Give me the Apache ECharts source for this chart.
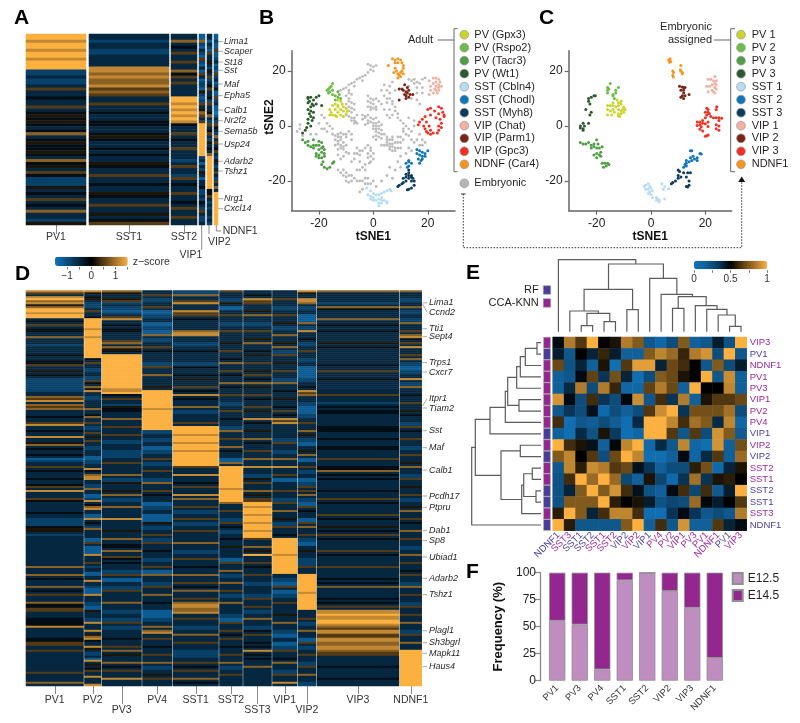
<!DOCTYPE html>
<html>
<head>
<meta charset="utf-8">
<title>Interneuron clusters</title>
<script src="https://cdn.jsdelivr.net/npm/echarts@6/dist/echarts.min.js"></script>
<style>
  html, body { margin: 0; padding: 0; background: #fff; }
  #main { width: 800px; height: 723px; }
</style>
</head>
<body>
<div id="main"></div>
<script>
// Panel A: rows read top to bottom, shade 0 (blue) .. 9 (orange)
const aPV1 = [9,9,8,9,9,8,9,9,8,9, 9,9,2,2,3,2,2,3,6,3, 3,4,3,3,6,3,4,5,4,5, 4,3,4,7,3,4,5,4,4,5, 4,3,7,4,5,3,6,4,2,2, 2,5,3,4,3,6,3,4,3,7, 3,3,2,5]
const aSST1 = [3,3,2,3,3,2,2,3,3,3, 3,8,8,7,8,7,7,8,6,7, 6,3,3,6,3,3,4,3,3,4, 4,3,3,4,5,4,3,3,4,3, 4,3,3,5,4,3,3,6,3,3, 4,3,3,5,4,3,3,6,3,3, 5,3,4,6]
const aSST2 = [3,3,7,3,4,3,6,3,3,6, 3,3,7,4,6,3,6,3,3,3, 3,9,9,8,9,8,9,8,9,8, 4,3,3,6,3,4,3,3,6,3, 3,3,2,3,6,3,3,2,6,3, 4,3,3,6,3,3,4,3,6,3, 3,6,3,3]
const aVIP1 = [1,1,7,2,1,3,2,1,6,2, 1,3,1,6,3,1,2,2,1,5, 2,1,2,6,3,5,7,6,3,6, 9,9,9,9,9,9,9,9,9,9, 9,2,3,1,3,2,5,3,1,3, 3,4,2,2,3,2,4,3,2,6, 3,2,2,3]
const aVIP2 = [3,3,1,3,2,1,6,3,3,5, 3,2,5,3,6,2,3,4,6,3, 3,4,2,6,3,3,4,7,3,2, 6,3,4,6,3,2,5,3,4,3, 7,9,9,9,9,9,9,9,9,9, 9,9,4,4,6,3,2,3,2,3, 3,2,3,2]
const aNDNF1 = [1,1,2,1,1,6,1,1,2,3, 1,2,1,6,2,3,1,2,5,1, 1,6,2,3,1,1,0,1,3,2, 6,4,3,2,7,3,6,3,4,6, 3,2,5,3,2,3,6,3,2,6, 3,7,3,9,9,9,9,9,9,9, 9,9,9,9]

// Panel D: 198 rows per column
const dPV1 = [8,6,3,8,9,7,8,5,7,9,9,8,9,9,3,4,3,6,3,4,
  4,3,3,7,3,3,3,2,3,3,3,3,4,3,3,4,4,6,3,3,
  5,3,4,3,2,2,2,2,2,2,2,3,3,7,6,8,3,7,6,7,
  3,3,3,4,3,3,6,8,3,3,4,3,3,8,3,3,5,7,3,4,
  3,3,4,3,1,2,3,3,6,3,4,3,3,3,4,3,3,4,6,3,
  8,3,3,3,6,4,3,3,3,3,3,4,3,3,2,2,2,2,4,5,
  5,3,2,3,3,3,3,3,3,3,3,3,3,3,3,3,3,3,7,3,
  3,3,7,3,4,3,3,3,7,3,4,3,6,3,3,3,7,4,4,6,
  6,3,3,3,4,4,4,4,8,3,3,3,3,3,4,4,6,6,3,3,
  6,3,3,3,3,3,3,3,3,3,3,6,3,3,3,3,7,3]
const dPV2 = [8,5,3,4,5,3,2,2,2,3,6,3,3,4,9,9,9,9,9,8,
  9,9,9,8,9,9,9,9,9,9,9,9,9,9,4,3,6,3,3,2,
  2,3,3,2,2,6,4,3,7,5,8,3,3,2,2,3,3,3,3,7,
  3,3,4,7,3,3,6,3,2,2,3,6,3,5,3,6,3,3,2,2,
  3,3,3,1,1,2,2,3,3,8,4,3,7,8,8,3,3,2,2,7,
  3,3,1,1,2,8,3,4,7,8,3,3,1,1,8,3,4,3,2,7,
  3,3,3,3,1,1,6,3,1,1,1,1,8,3,3,3,6,3,2,3,
  3,1,1,3,3,8,3,3,2,1,1,1,8,3,3,3,2,2,1,1,
  5,3,3,3,2,2,8,3,3,3,8,3,5,7,8,4,3,3,8,5,
  3,2,2,3,1,8,3,5,3,4,6,3,3,8,3,3,3,8]
const dPV3 = [7,5,3,3,5,6,2,3,2,2,1,2,3,6,8,3,3,4,3,4,
  4,3,3,3,3,6,7,3,7,5,4,3,9,9,9,9,9,9,9,9,
  9,9,9,9,9,9,9,9,9,8,8,9,4,3,6,3,3,2,5,4,
  4,3,3,3,7,3,3,3,6,3,3,3,6,3,3,2,2,3,3,3,
  2,2,2,2,3,3,6,3,3,3,3,3,7,3,2,2,5,3,3,3,
  5,3,7,3,2,2,3,3,7,3,3,3,3,3,8,3,3,3,3,3,
  5,3,3,3,7,3,3,4,4,3,7,3,3,6,4,3,4,3,3,3,
  2,2,6,3,1,1,3,3,2,2,6,3,3,3,3,3,7,3,3,3,
  2,2,3,3,2,2,6,3,2,2,3,3,3,3,4,3,3,3,6,3,
  7,3,5,3,3,3,7,3,4,3,6,3,3,3,8,3,3,3]
const dPV4 = [3,3,6,3,2,2,3,3,6,3,1,1,2,2,3,3,1,1,2,2,
  1,1,7,3,2,2,3,3,6,3,4,3,3,3,3,3,2,2,6,3,
  3,3,7,3,3,3,3,3,5,3,9,9,9,9,9,9,9,9,9,8,
  9,9,9,9,9,9,9,9,9,9,2,2,3,3,2,2,3,3,1,1,
  2,2,3,3,6,3,2,2,3,3,6,3,3,3,2,2,7,3,3,3,
  6,3,4,3,3,3,1,1,2,2,3,3,1,1,1,1,5,3,2,2,
  3,3,6,3,2,2,6,3,3,3,4,3,3,3,2,2,3,3,6,3,
  1,1,7,3,3,3,2,2,6,3,3,3,7,3,3,3,4,3,3,3,
  1,1,1,1,2,2,3,3,7,3,7,8,3,3,6,3,3,3,4,3,
  3,3,6,3,3,3,7,3,2,2,3,3,5,3,6,3,3,3]
const dSST1 = [2,2,7,3,3,6,8,3,3,3,8,6,6,3,4,3,3,3,3,3,
  7,8,8,3,3,3,2,2,3,3,4,3,3,3,3,3,2,2,4,3,
  3,3,4,3,5,3,3,3,6,3,4,3,8,3,4,3,3,3,7,3,
  2,2,3,3,3,3,6,3,9,9,9,9,8,9,9,9,8,9,9,9,
  8,9,9,9,9,9,9,9,6,3,3,3,8,3,3,3,4,3,6,3,
  3,3,8,3,7,3,3,3,6,3,2,2,3,3,6,3,2,2,3,3,
  6,3,3,3,3,3,7,3,3,3,2,2,3,3,6,3,3,3,4,3,
  3,3,7,3,3,3,6,3,4,3,7,3,3,3,6,3,7,8,8,7,
  7,8,3,3,6,3,3,3,2,2,3,3,7,3,3,3,6,3,3,3,
  2,2,2,2,3,3,6,3,4,3,6,3,3,3,7,3,4,3]
const dSST2 = [6,3,3,3,2,2,5,3,1,1,3,3,6,3,3,3,2,2,3,3,
  6,3,3,3,3,3,5,3,3,3,6,3,3,3,4,3,7,3,3,3,
  6,3,4,3,3,3,7,3,4,3,3,3,6,3,3,3,2,2,3,3,
  6,3,3,3,4,3,3,3,2,2,7,3,3,3,6,3,3,3,7,3,
  4,3,3,3,1,1,7,3,9,9,9,9,9,9,9,9,9,9,9,8,
  9,9,9,9,9,9,7,3,3,3,6,3,3,3,2,2,6,3,4,3,
  2,2,3,3,4,3,3,3,5,3,3,3,3,3,1,1,6,3,3,3,
  7,3,2,2,3,3,7,3,3,3,6,3,2,2,3,3,7,3,3,3,
  3,3,2,2,1,1,6,3,3,3,6,3,4,3,6,3,3,3,4,3,
  3,3,6,3,3,3,7,3,2,2,3,3,6,3,3,3,3,3]
const dSST3 = [3,3,4,3,8,6,6,3,3,3,5,3,7,3,3,3,2,2,3,3,
  6,3,3,3,5,3,7,3,3,3,4,3,5,3,3,3,6,3,3,3,
  5,3,6,3,4,3,7,3,5,3,3,3,6,3,4,3,3,3,6,3,
  5,3,3,3,8,3,4,3,3,3,5,3,3,3,7,3,4,3,3,3,
  6,3,3,3,7,3,3,3,8,3,3,3,2,2,5,3,6,3,3,3,
  7,3,5,3,6,6,9,9,8,9,9,9,8,9,9,9,8,9,9,9,
  8,9,9,9,6,3,3,3,7,3,5,3,9,3,3,3,6,3,4,3,
  3,3,6,3,3,3,2,2,3,3,3,3,2,2,6,3,3,3,6,3,
  2,2,3,3,7,3,3,3,2,2,4,3,6,3,3,3,4,3,4,3,
  8,3,4,3,4,3,3,3,7,3,3,3,3,3,3,3,3,3]
const dVIP1 = [3,3,3,3,6,3,3,3,2,2,3,3,6,3,3,3,5,3,2,2,
  3,3,7,3,3,3,5,3,7,3,2,2,6,3,3,3,5,3,3,3,
  6,3,3,3,2,2,7,3,3,3,4,3,3,3,5,3,3,3,4,3,
  6,3,4,3,8,6,8,3,3,3,3,3,3,3,2,2,6,3,3,3,
  2,2,3,3,7,3,3,3,8,3,3,3,6,3,1,1,3,3,3,3,
  6,3,3,3,2,2,6,3,3,3,7,3,3,3,5,3,2,2,6,3,
  3,3,4,3,9,9,9,9,9,9,9,9,8,9,9,9,9,9,9,9,
  9,9,3,3,2,2,1,1,6,3,1,1,2,2,3,3,6,3,3,3,
  3,3,5,3,3,3,7,3,3,3,2,2,1,1,3,3,1,1,2,2,
  6,3,3,3,4,3,7,3,3,3,2,2,6,3,3,3,8,3]
const dVIP2 = [8,5,3,3,8,8,7,3,2,2,3,3,1,1,1,1,7,3,2,2,
  8,3,3,3,4,3,2,2,3,3,6,3,3,3,2,2,3,3,1,1,
  1,1,1,1,2,2,3,3,4,3,8,6,7,3,3,3,2,2,1,1,
  1,1,2,2,3,3,6,3,3,3,7,3,5,3,2,2,1,1,3,3,
  5,3,7,3,1,1,3,3,6,3,2,2,3,3,1,1,2,2,6,3,
  6,3,7,3,2,2,1,1,6,3,4,3,3,3,1,1,6,3,7,3,
  3,3,6,3,2,2,1,1,3,3,5,3,3,3,2,2,2,2,6,3,
  3,3,9,9,9,9,9,9,9,9,9,8,9,9,9,9,9,9,9,9,
  3,3,3,3,6,3,2,2,3,3,7,3,3,3,1,1,6,3,2,2,
  3,3,6,3,3,3,2,2,6,3,3,3,7,3,3,3,2,2]
const dVIP3 = [7,3,3,3,3,3,2,3,7,4,3,3,3,3,7,3,3,4,3,3,
  4,3,3,3,3,3,5,3,4,3,3,3,3,3,3,3,3,4,3,3,
  6,3,3,3,4,3,3,3,3,3,3,3,6,3,3,3,2,3,4,3,
  4,4,3,3,3,3,3,3,4,4,4,3,3,3,4,3,3,3,4,4,
  3,3,3,3,6,3,3,3,4,4,7,3,4,3,4,3,3,3,3,3,
  4,3,3,3,6,3,4,3,3,3,3,3,6,3,4,3,3,3,5,3,
  4,3,6,3,4,3,3,3,3,3,6,3,4,3,3,3,3,3,6,3,
  3,3,3,3,4,3,4,3,7,3,3,3,3,3,4,3,4,3,6,3,
  8,8,9,8,8,9,9,8,7,6,8,8,6,6,8,8,7,7,8,8,
  7,6,6,3,3,3,3,3,4,3,3,3,3,3,4,3,3,3]
const dNDNF1 = [7,3,3,3,2,2,3,3,7,3,2,2,3,3,2,2,7,3,3,3,
  6,3,7,8,4,3,6,3,8,3,3,3,6,3,7,3,2,2,1,1,
  2,2,3,3,8,3,2,2,7,3,3,3,4,3,3,3,6,3,3,3,
  5,3,4,3,3,3,2,2,6,3,4,3,3,3,6,3,3,3,2,2,
  3,3,6,3,3,3,5,3,7,3,3,3,2,2,6,3,3,3,5,3,
  3,3,6,3,2,2,3,3,5,3,7,3,3,3,6,3,4,3,3,3,
  7,3,3,3,6,3,3,3,2,2,3,3,7,3,3,3,6,3,3,3,
  4,3,6,3,3,3,2,2,7,3,3,3,6,3,3,3,2,2,6,3,
  3,3,6,3,3,3,7,3,3,3,2,2,6,3,3,3,7,3,3,3,
  9,9,9,9,9,9,9,9,9,9,9,9,9,9,9,9,9,9]

const aGenes = ['Lima1','Scaper','St18','Sst','Maf','Epha5','Calb1','Nr2f2','Sema5b','Usp24','Adarb2','Tshz1','Nrg1','Cxcl14']
const dGenes = ['Lima1','Ccnd2','Tti1','Sept4','Trps1','Cxcr7','Itpr1','Tiam2','Sst','Maf','Calb1','Pcdh17','Ptpru','Dab1','Sp8','Ubiad1','Adarb2','Tshz1','Plagl1','Sh3bgrl','Mapk11','Haus4']

// Panel B: embryonic cells in grey, adult clusters on top
const bEmbryonic = [[-2,22.5],[-1,22],[0,21.5],[1,22],[-1,20.5],[0,20],[-2,19.5],[-3,18.5],[-4,18],[-5,17.5],[-6,17],[-4,16.5],[-7,16],[-8,15.5],[-9,15],[-7,14.5],[-10,14],[-11,13.5],[-12,13],[-9,13],[-13,12.5],
  [-9,10],[-9,9],[-8,8.5],[-10,8],[-7,8],[-9,7],[-8,6.5],[-7,6],[-9,5.5],[-8,5],[-10,11],[-8,11.5],[-9,12],
  [-2,11],[-1,10],[-2,9],[0,9.5],[-1,8.5],[0,8],[1,7],[-1,7],[-2,7],[0,6.5],[1,6],[-1,6],[2,9],[1,10],[3,8],
  [4,11],[5,10],[6,10],[7,9],[5,8.5],[7,8],[8,7],[6,6],[8,5.5],[9,4.5],[7,4],[9,3],[6,3],[5,4],[4,6],
  [13,17],[14,16.5],[15,17],[16,16],[18,17],[19,17.5],[17,15.5],[15,15.5],[13,14.5],[16,14],[18,14],[7,16],[6,14.5],[5,13],[3,13],[4,15],[8,13],[6,12],[16,12],[18,12],[14,10],[16,9.5],[17,8],
  [-4,4],[-3,3.5],[-2,4],[-3,3],[-4,2.5],[-2,2],[-1,3],[0,2.5],[1,3],[-1,1.5],[0,1],[1,1],[2,1.5],[-2,1],[-3,0.5],[0,0],[1,0],[2,0],[3,0.5],[0,-1],[1,-1],[2,-1],[3,-1.5],[1,-2],[2,-2.5],[3,-3],[4,-3],[1,-3.5],[2,-4],[0,-4],[3,-4.5],[1,-5],
  [-10,4],[-9,3.5],[-8,3],[-7,3],[-7,2],[-8,2],[-6,1],[-6.5,1.5],[-7,1],[-6,4],
  [-19,4],[-18,3],[-17,1],[-16,0],[-15,-1],[-17,-2],[-15,-3],[-14,-3.5],[-13,-4],[-18,-1],[-20,1],[-19,-1],[-21,-3],[-23,-3],[-27,0.5],[-27,-1],[-28,-2],[-26,-3.5],
  [-14,-5],[-13,-5.5],[-12,-5],[-11,-6],[-13,-6.5],[-12,-7],[-11,-7.5],[-10,-7],[-12,-8],[-13,-8.5],[-11,-8.5],[-14,-7],[-10,-4],[-11,-3],[-12,-2.5],[-10,-3],[-9,-2],[-8,-5],[-8,-3],[-13,-3],[-12,-4],
  [-6,-8],[-5,-9],[-7,-10],[-6,-10],[-5,-10.5],[-4,-9],[-3,-8],[-2,-7],[-1,-8],[-1,-9],[-2,-10],[-1,-11],[0,-10],[-2,-11.5],[-1,-13],[0,-12],[-1.5,-13.5],[-3,-14],[-5,-13],[-7,-12],[-8,-13],[-9,-10],[-10,-9.5],[-11,-11],[-13,-10.5],[-12,-12],
  [5,-5],[6,-5],[7,-5],[8,-6],[5,-6],[6,-6.5],[7,-6.5],[9,-6],[10,-6],[5,-7],[6,-7.5],[7,-7.5],[8,-8],[6,-8.5],[7,-9],[8,-9],[9,-8],[10,-8],[4,-7],[7,-4],[5,-4],[9,-4],[10,-4],[11,-5],[3,-7],
  [10,2],[11,1],[12,0],[11,-1],[13,-1],[11,-2],[12,-3],[13,-3.5],[14,-5],[15,-6],[14,-2],[13,3],[15,2],[15,0],[17,-3],[16,-5],[18,-5],[19,-6],[17,-7],[18,-7],[13,-8],[14,-9],[12,-10],[10,-11],[9,-13],
  [-13,-16],[-12,-17],[-11,-16],[-10,-17],[-11,-18],[-10,-18.5],[-9,-18],[-8,-18],[-7,-19],[-8,-20],[-9,-20.5],[-10,-20],[-6,-20],[-5,-20],[-4,-20],[-3,-19],[-2,-19],[-6,-16],[-5,-16],[-4,-15],[-3,-16],
  [-5,-24],[-4,-23],[-3,-21],[-2,-21],[-1,-21],[0,-20],[1,-22],[3,-20],[5,-18],[7,-19],[6,-15],[8,-16],[10,-15]]
const bGpx3 = [[-13,9.5],[-12,9],[-11.5,8],[-14,8],[-13,7.5],[-15,7.5],[-13,7],[-11,7],[-10,6.5],[-16,6],[-14,6],[-12,6],[-9.5,5.5],[-11,5.5],[-15.5,5],[-13,5],[-10,4.5],[-12,4],[-15,4],[-14,3.8],[-11,3.5],[-16,4],[-13.5,3.5]]
const bRspo2 = [[-15,15.5],[-15.5,14.5],[-16,14],[-16.5,13.5],[-17,13],[-15,13],[-16,12.5],[-13,12.5],[-16.5,12],[-12.5,11.5],[-15,11.5],[-14,11],[-13,10.5],[-12,10],[-14,9.5]]
const bTacr3 = [[-26,-5],[-25,-6],[-24,-5.5],[-22,-5],[-20,-5.5],[-19,-6],[-24,-7],[-23,-7.5],[-22,-7],[-21,-7],[-20,-7],[-18.5,-7.5],[-22,-8],[-19,-8],[-20,-8.5],[-18,-8.5],[-19,-9.5],[-21,-10],[-20,-10.5],[-18,-10],[-21,-11],[-19,-11.5],[-18,-11],[-20,-11.5],[-18.5,-13],[-19,-14],[-18,-15],[-17,-15.5],[-16,-15],[-15,-13.5],[-14.5,-13]]
const bWt1 = [[-24,10.5],[-23,10.5],[-21,10.5],[-20,11],[-24,10],[-22,9.5],[-23.5,9],[-24,8.5],[-22.5,8],[-21,8],[-22,7.5],[-19,7.5],[-23,7],[-24,6],[-23,5.5],[-22,5],[-23.5,4.5],[-23,3.5],[-22,3],[-24,2.5],[-22.5,2],[-24,1],[-23,0],[-24.5,-0.5],[-25,-1.5],[-26,-2.5]]
const bCbln4 = [[-2.5,-22.5],[-1,-23.5],[0,-24.5],[-2,-25],[-1,-25.5],[0,-26],[1,-25],[2,-25],[3,-24.5],[4,-24],[5,-23.5],[6,-23],[6.5,-23.5],[3,-26],[2,-26.5],[0,-27],[-1,-26.5],[1,-27],[3,-27],[4,-27],[5,-27.5],[5,-28],[2,-28],[3,-28],[2,-29]]
const bChodl = [[16,-8.5],[17,-9],[18,-9.5],[19,-10],[16,-10],[17,-10.5],[18,-11],[19,-11],[20,-9],[16.5,-12],[17.5,-12.5],[17,-13.5],[18,-12],[13,-12.5],[13,-13],[12,-13.5],[14,-13.5],[13,-14.5],[12.5,-15]]
const bMyh8 = [[13,-16],[13,-17],[12,-17.5],[14,-18],[13,-18],[12,-18.5],[14,-18.5],[11,-19],[13,-19],[14.5,-19],[12,-20],[14,-20],[11,-20.5],[15,-20],[10.5,-21],[9.5,-21.5],[9,-22],[13,-23],[14,-22.5],[12.5,-23.2],[15,-21.5]]
const bChat = [[20.5,16.5],[22,17.5],[23,17.5],[24,17],[24.5,16],[23,16],[22,15.5],[24,15],[23,14.5],[25,14.5],[22.5,13.5],[24,13],[21,14.5],[21,13],[22,12],[23.5,12],[20.5,11.5],[24,14],[23,13]]
const bParm1 = [[11.5,15],[12.5,14],[9.5,13.5],[10.5,13.5],[11,13],[12,12.5],[13,13],[12.5,12],[11.5,11.5],[13.5,11.5],[14.5,11.5],[12,11],[13,10.5],[12,10],[9.5,9.5]]
const bGpc3 = [[20,6],[21,6.5],[24,7],[25,6.5],[22.5,5.5],[25.5,5],[24,4.5],[26,4],[26,3.5],[19,3.5],[21,4],[18,2.5],[17,1.5],[19.5,1.5],[23,3],[24.5,2.5],[25,1],[16.5,0.5],[18.5,0],[20.5,0],[24,0],[25,-0.5],[19,-1],[21,-1.5],[24,-1.5],[20,-2.5],[22,-2.5],[23.5,-2.5],[21,-3],[19.5,-2]]
const bCar4 = [[7,24.5],[8,24],[9,24.5],[10,24],[10.5,23],[11,22],[11,21],[10.5,20],[10,19.5],[9,19],[9.5,18.5],[8.5,20],[8,21],[8,23],[9,23],[7.5,19.5],[5.5,22],[9,17.5],[10,18],[11,19]]

// Panel C: embryonic cells after assignment
const cPV1 = [[-12.5,9.5],[-14,8.5],[-12,8.5],[-11,9],[-16,7.5],[-15,7.5],[-14,7.5],[-13,7],[-12,7.5],[-11,8],[-10,6.8],[-10.5,6],[-12,6],[-11,5.5],[-14,6],[-16,6],[-15,5.5],[-13.5,5],[-11,4.5],[-10,5],[-12,4.5],[-16,4],[-14.5,4],[-12,3.7],[-11.5,3.5],[-9.5,6]]
const cPV2 = [[-15,15.5],[-16,14],[-15.5,13.5],[-16,13],[-12,14],[-13,13],[-16,12],[-14,11],[-13,12],[-14,11.5],[-13.5,10]]
const cPV3 = [[-26,-6],[-25,-6.5],[-24,-6.5],[-23,-6],[-20,-5],[-21,-6.5],[-22,-7],[-21,-7.5],[-19.5,-6.5],[-18,-7.5],[-22,-8],[-20,-8],[-19,-8],[-18.5,-9.5],[-20,-10],[-21,-10.5],[-19,-10.5],[-18.5,-11],[-20,-11.5],[-18,-13.5],[-17,-13.5],[-16,-13.5],[-17.5,-15],[-16.5,-14.5],[-15.5,-14]]
const cPV3b = [[-21,11],[-20.5,11],[-22,10.5],[-23,10],[-23,9],[-22.5,8],[-24,6],[-22,5],[-22.5,4],[-23,1],[-25,1],[-24.5,0],[-26,0],[-26,-0.7],[-25,-1],[-25,-1.5]]
const cSST1 = [[-2.5,-22],[-2,-21.5],[-1,-21],[-0.5,-22],[0,-22.5],[-1,-23],[-2,-23],[-0.5,-24],[0.5,-23.5],[-1,-24.5],[0,-25],[4,-21],[5,-22],[4.5,-23],[6.5,-22.8],[0.5,-26],[2,-26],[2.5,-26.5],[2,-27],[3,-27],[3,-27.5],[5,-26.5]]
const cSST2 = [[14.5,-9],[15,-9],[18,-10],[18.5,-10.2],[15.5,-11],[14.5,-11.5],[17,-11.5],[16,-12],[17,-12.5],[13,-12.5],[14,-13],[13,-13.5],[15,-12.5],[12.5,-14],[13,-14.5],[12,-15]]
const cSST3 = [[10,-16],[10.5,-16.5],[12,-17],[13.5,-17],[14.5,-17],[10,-18],[11,-18.5],[13,-18.5],[10,-19],[9,-20],[8,-20.5],[7.5,-21],[14,-20],[14,-21.5],[13,-22],[13.5,-22.2]]
const cVIP1 = [[23.5,18],[21,17],[22,17],[23,16.5],[24,16.5],[23.5,15.5],[22.5,15],[24,15],[20.5,14.5],[21.5,14.5],[23.5,14],[24,13.5],[22.5,13],[23,12.5],[21,12.5],[23.5,12]]
const cVIP2 = [[10.5,14.5],[11.5,14.2],[12,14],[12.5,14],[11,13],[12,13],[12,12],[11.5,11],[12.5,11],[14,11.5],[11,10.5],[12,10]]
const cVIP3 = [[20.5,6.5],[21,6],[24.2,7],[24,6],[20,5],[21,5],[20.5,4],[21.5,4.5],[22,3.5],[20,3],[23,3],[24,3],[25,3],[26,2.8],[25,2],[19,2],[17,1.5],[18,1.5],[19,1],[21,1.5],[20,0.8],[18,0.5],[17,0.2],[18.5,-0.3],[21,-0.2],[24,0.5],[25,0],[24,-1],[25,-1.5],[18,-1.2],[19,-1.8],[20.5,-3.5],[21,-3.3],[20,-3.7]]
const cNDNF1 = [[6.5,24],[7,24.5],[7.3,23.5],[6.8,23.2],[8,20],[8.3,19.5],[8,18.5],[8.2,17.8],[11,22],[10.8,20.5],[11,20],[11.5,19.5],[11.5,19]]

const bLegend = ['PV (Gpx3)','PV (Rspo2)','PV (Tacr3)','PV (Wt1)','SST (Cbln4)','SST (Chodl)','SST (Myh8)','VIP (Chat)','VIP (Parm1)','VIP (Gpc3)','NDNF (Car4)']
const cLegend = ['PV 1','PV 2','PV 3','PV 3','SST 1','SST 2','SST 3','VIP 1','VIP 2','VIP 3','NDNF1']
const clusterColors = ['#c9d52b','#6cbd45','#4f9e43','#2b5a2e','#b6dcf6','#0f75bd','#0b3c5e','#f0b2a5','#7a2416','#ee3124','#f7941d']

// Panel E
const eRowLabels = ['VIP3','PV1','NDNF1','PV1','PV3','VIP1','PV2','PV4','VIP1','VIP2','VIP2','SST2','SST1','SST2','SST1','SST3','NDNF1']
const eRowIsRF = [0,1,0,0,0,0,0,0,1,0,1,0,0,1,1,0,1]
const eColLabels = ['NDNF1','SST3','SST1','SST2','SST1','SST2','VIP2','VIP2','VIP1','PV4','PV2','VIP1','PV3','PV1','NDNF1','PV1','VIP3']
const eColIsRF = [1,0,1,1,0,0,1,0,1,0,0,0,0,0,0,1,0]
const eMatrix = [
  [.47,.85,.65,1,.5,.55,.85,.75,.2,.1,.25,.75,.15,.2,.42,.22,1],
  [.42,.2,.5,.4,.6,.42,.15,.15,.75,.88,.8,.6,.85,.92,.25,1,.2],
  [.7,.22,.4,.15,.55,.05,.65,.95,.95,.4,.7,.62,.5,.2,.75,.25,.42],
  [.15,.2,.47,.68,.35,.72,.4,.05,.25,.75,.7,.55,.5,1,.2,.9,.15],
  [.15,.38,.85,.25,.85,.6,.1,.1,.68,.85,.7,.15,1,.5,.5,.88,.15],
  [.92,.47,.25,.62,.35,.25,.48,.9,.2,.62,.35,.85,.15,.55,.65,.65,.7],
  [.2,.35,.25,.45,.08,.25,.15,.25,.65,.9,1,.35,.72,.72,.72,.82,.25],
  [.62,.05,.2,.17,.25,.17,.05,.38,1,1,.88,.62,.82,.75,.38,.88,.1],
  [.15,.05,.38,.22,.55,.33,.05,.1,1,1,.65,.2,.65,.25,.92,.75,.18],
  [1,.62,.55,.45,.15,.48,.88,1,.08,.38,.2,.88,.1,.05,.92,.15,.72],
  [.75,.88,.5,.65,.25,.7,1,.88,.05,.05,.15,.47,.1,.38,.65,.15,.8],
  [.2,.88,.58,.9,.85,.65,.7,.45,.35,.15,.25,.25,.58,.72,.08,.4,.55],
  [.22,.62,1,.8,1,.8,.27,.15,.55,.28,.08,.35,.82,.35,.55,.58,.5],
  [.22,.4,.75,1,.75,.92,.62,.45,.22,.15,.47,.62,.28,.62,.18,.42,1],
  [.22,.75,.75,.75,1,.58,.5,.55,.42,.22,.28,.25,.8,.48,.42,.5,.65],
  [.58,1,.75,.4,.62,.88,.88,.62,.05,.05,.35,.47,.35,.2,.25,.2,.85],
  [1,.57,.2,.2,.2,.2,.75,1,.15,.62,.2,.92,.15,.15,.65,.4,.47]
]
// [leaf a, leaf b, height, base a, base b]
const eTopLinks = [[2,3,6,0,0],[4,5,10,0,0],[2.5,4.5,18.3,6,10],[1,3.5,20.7,0,18.3],[6,7,22,0,0],[2.25,6.5,42.3,20.7,22],[15,16,5.3,0,0],[14,15.5,16.7,0,5.3],[13,14.77,22.3,0,16.7],[12,13.9,26,0,22.3],[10,11,23.3,0,0],[10.5,12.95,35,23.3,26],[9,11.75,37.3,0,35],[8,10.38,53.3,0,37.3],[4.39,9.2,67.7,42.3,53.3],[0,6.78,72,0,67.7]]
const eLeftLinks = [[0,1,4,0,0],[0.5,2,15.7,4,0],[1.23,3,20.7,15.7,0],[2.1,4,24.3,20.7,0],[5,6,22,0,0],[3.04,5.5,33.3,24.3,22],[4.27,7,35.7,33.3,0],[5.68,8,51,35.7,0],[9,10,20.7,0,0],[11,12,8.7,0,0],[13,14,5,0,0],[11.5,13.5,17.3,8.7,5],[12.5,15,19.3,17.3,0],[9.5,13.76,40,20.7,19.3],[6.73,11.64,65.7,51,40],[9.18,16,69.3,65.7,0]]

// Panel F
const fCategories = ['PV1','PV3','PV4','SST1','SST2','VIP2','VIP3','NDNF1']
const fE125 = [55.5,52,10.5,93,100,83,67.5,21]
const fE145 = [44.5,48,89.5,7,0,17,32.5,79]

const FONT = '"Liberation Sans", Arial, sans-serif'
const TEXT = '#231f20'
const heatColors = ['#0f75bd', '#000000', '#fbb040']
const corrColors = ['#0f75bd', '#125e96', '#0a3a5e', '#000000', '#5a3e12', '#a8752a', '#fbb040']

const grids = [], xAxes = [], yAxes = [], series = [], graphics = []

function addGrid (rect, xAxis, yAxis) {
  grids.push({ left: rect[0], top: rect[1], width: rect[2], height: rect[3], containLabel: false })
  const gridIndex = grids.length - 1
  xAxes.push(Object.assign({ gridIndex }, xAxis))
  yAxes.push(Object.assign({ gridIndex }, yAxis))
  return gridIndex
}

function txt (text, x, y, o = {}) {
  graphics.push({
    type: 'text', x, y, rotation: o.rotation || 0, silent: true,
    style: {
      text, x: 0, y: 0, fill: o.fill || TEXT,
      font: `${o.style || ''} ${o.weight || ''} ${o.size || 11}px ${FONT}`,
      align: o.align || 'left', verticalAlign: 'middle'
    }
  })
}

function seg (x1, y1, x2, y2, stroke = '#999', lineWidth = 1, lineDash) {
  graphics.push({ type: 'line', silent: true, shape: { x1, y1, x2, y2 }, style: { stroke, lineWidth, lineDash } })
}

const heatIndex = []

// One grid per heatmap column, so widths can differ
function addColumn (values, rect, label, tickLen, labelMargin) {
  const rows = values.map((v, i) => i)
  const g = addGrid(rect, {
    type: 'category',
    data: [label],
    axisLine: { show: false },
    axisTick: { show: !!tickLen, alignWithLabel: true, length: tickLen || 0, lineStyle: { color: '#888' } },
    axisLabel: { show: !!tickLen, interval: 0, margin: labelMargin, fontSize: 10.5, color: '#333' }
  }, { type: 'category', data: rows, inverse: true, show: false })
  heatIndex.push(series.length)
  series.push({
    type: 'heatmap', xAxisIndex: g, yAxisIndex: g, silent: true,
    data: values.map((v, i) => [0, i, (v - 4.5) / 3])
  })
}

// Panel A
const aTop = 34, aHeight = 191
addColumn(aPV1, [26, aTop, 60, aHeight], 'PV1', 9, 7)
addColumn(aSST1, [89, aTop, 80, aHeight], 'SST1', 9, 7)
addColumn(aSST2, [171, aTop, 26, aHeight], 'SST2', 9, 7)
addColumn(aVIP1, [199, aTop, 6, aHeight], 'VIP1')
addColumn(aVIP2, [207, aTop, 5, aHeight], 'VIP2')
addColumn(aNDNF1, [214, aTop, 4, aHeight], 'NDNF1')
seg(201.7, 225, 201.7, 250, '#888')
txt('VIP1', 191, 255, { size: 10.5, align: 'center', fill: '#333' })
seg(209, 225, 209, 234, '#888')
txt('VIP2', 219.3, 241.7, { size: 10.5, align: 'center', fill: '#333' })
seg(216.3, 225, 216.3, 231, '#888')
seg(216.3, 231, 221, 231, '#888')
txt('NDNF1', 222.7, 231, { size: 10.5, fill: '#333' })

const aGeneY = [41.7,51.3,62,70.3,84,95.7,110,120.7,131.3,144,161.3,171,198.7,208.7]
aGenes.forEach((g, i) => {
  seg(218, aGeneY[i], 223, aGeneY[i], '#aaa')
  txt(g, 224, aGeneY[i], { size: 9, style: 'italic' })
})

// Panel D
const dTop = 290.5, dHeight = 395.5
addColumn(dPV1, [26, dTop, 57.5, dHeight], 'PV1', 8, 9)
addColumn(dPV2, [84.5, dTop, 16.5, dHeight], 'PV2', 8, 9)
addColumn(dPV3, [102, dTop, 39.5, dHeight], 'PV3', 18, 19)
addColumn(dPV4, [142.5, dTop, 29.5, dHeight], 'PV4', 8, 9)
addColumn(dSST1, [173, dTop, 45.5, dHeight], 'SST1', 8, 9)
addColumn(dSST2, [219.5, dTop, 23, dHeight], 'SST2', 8, 9)
addColumn(dSST3, [243.5, dTop, 28, dHeight], 'SST3', 18, 19)
addColumn(dVIP1, [272.5, dTop, 24.5, dHeight], 'VIP1', 8, 9)
addColumn(dVIP2, [298, dTop, 18, dHeight], 'VIP2', 18, 19)
addColumn(dVIP3, [317, dTop, 82, dHeight], 'VIP3', 8, 9)
addColumn(dNDNF1, [400, dTop, 21.7, dHeight], 'NDNF1', 8, 9)

const dGeneTickY = [303,304,328.7,336.7,362.7,372,406,408,430.7,447.7,470,496,507.3,530.3,540.7,557,578.3,594.7,630.7,642.7,653.3,666.7]
const dGeneTextY = [302.7,312.3,328.7,336.7,362.7,372,398.7,408,430.7,447.7,470,496,507.3,530.3,540.7,557,578.3,594.7,630.7,642.7,653.3,666.7]
dGenes.forEach((g, i) => {
  seg(422.5, dGeneTickY[i], 427, dGeneTextY[i], '#aaa')
  txt(g, 429, dGeneTextY[i], { size: 9, style: 'italic' })
})

// tSNE scatter axes
function addScatterGrid (rect, xMin, xMax) {
  const line = { onZero: false, lineStyle: { color: '#666', width: 1.5 } }
  return addGrid(rect, {
    type: 'value', min: xMin, max: xMax, splitLine: { show: false },
    axisLine: line, axisTick: { length: 4, customValues: [-20, 0, 20], lineStyle: { color: '#666', width: 1.2 } },
    axisLabel: { customValues: [-20, 0, 20], fontSize: 12, color: '#222', margin: 7 },
    name: 'tSNE1', nameLocation: 'middle', nameGap: 19,
    nameTextStyle: { fontWeight: 'bold', fontSize: 12, color: '#111', verticalAlign: 'top' }
  }, {
    type: 'value', min: -30.8, max: 27.4, splitLine: { show: false },
    axisLine: line, axisTick: { length: 4, customValues: [-20, 0, 20], lineStyle: { color: '#666', width: 1.2 } },
    axisLabel: { customValues: [-20, 0, 20], fontSize: 12, color: '#222', margin: 6 }
  })
}
function addPoints (g, data, color, size) {
  series.push({ type: 'scatter', xAxisIndex: g, yAxisIndex: g, data, symbolSize: size, silent: true, itemStyle: { color, opacity: 1 } })
}

const gB = addScatterGrid([291.7, 50.7, 163.3, 160], -30, 30)
addPoints(gB, bEmbryonic, '#bcbcbc', 2.8)
;[bGpx3, bRspo2, bTacr3, bWt1, bCbln4, bChodl, bMyh8, bChat, bParm1, bGpc3, bCar4].forEach((d, i) => addPoints(gB, d, clusterColors[i], 3))
txt('tSNE2', 270, 117, { size: 12, weight: 'bold', align: 'center', rotation: Math.PI / 2, fill: '#111' })

const gC = addScatterGrid([568.7, 50.7, 163, 160], -30.3, 29.7)
;[cPV1, cPV2, cPV3, cPV3b, cSST1, cSST2, cSST3, cVIP1, cVIP2, cVIP3, cNDNF1].forEach((d, i) => addPoints(gC, d, clusterColors[i], 3))

// Bracketed legends
const legendY = [34.7,47.7,60.7,73.7,86.7,99.7,112.7,125.7,138.3,151.3,164.3]
function drawLegend (names, dotX, textX, bracketX, bracketEnd) {
  names.forEach((n, i) => {
    graphics.push({
      type: 'circle', silent: true, shape: { cx: dotX, cy: legendY[i], r: 4.4 },
      style: { fill: clusterColors[i], stroke: '#999', lineWidth: 0.7 }
    })
    txt(n, textX, legendY[i], { size: 11 })
  })
  graphics.push({
    type: 'polyline', silent: true,
    shape: { points: [[bracketEnd, 28.7], [bracketX, 28.7], [bracketX, 171.7], [bracketEnd, 171.7]] },
    style: { stroke: '#666', lineWidth: 1, fill: null }
  })
}
drawLegend(bLegend, 464.3, 474.3, 454, 457.5)
drawLegend(cLegend, 741, 751.7, 730.7, 735)
graphics.push({
  type: 'circle', silent: true, shape: { cx: 464.3, cy: 183.3, r: 4.4 },
  style: { fill: '#b5b5b5', stroke: '#999', lineWidth: 0.7 }
})
txt('Embryonic', 474.3, 183.3, { size: 11 })
txt('Adult', 408, 39.5, { size: 11 })
seg(437.7, 40, 454, 40, '#666')
txt('Embryonic', 712, 26.7, { size: 11, align: 'right' })
txt('assigned', 712, 40, { size: 11, align: 'right' })
seg(714, 40, 730.7, 40, '#666')

// Dotted link from B to C
graphics.push({
  type: 'polyline', silent: true,
  shape: { points: [[463.3, 194], [463.3, 247.7], [741.7, 247.7], [741.7, 182]] },
  style: { stroke: '#333', lineWidth: 1, lineDash: [1.5, 1.5], fill: null }
})
seg(461, 194, 465.6, 194, '#333')
graphics.push({
  type: 'polygon', silent: true,
  shape: { points: [[741.7, 176.5], [738.2, 182], [745.2, 182]] },
  style: { fill: '#111' }
})

// Panel E
const eLeft = 552.7, eTop = 337, eSize = 194
const gE = addGrid([eLeft, eTop, eSize, 193.7], {
  type: 'category', data: eColLabels, axisLine: { show: false }, axisTick: { show: false },
  axisLabel: {
    interval: 0, rotate: 45, margin: 3, fontSize: 9.5,
    color: (v, i) => (eColIsRF[i] ? '#4b3fa0' : '#a0289a')
  }
}, {
  type: 'category', data: eRowLabels, inverse: true, position: 'right',
  axisLine: { show: false }, axisTick: { show: false },
  axisLabel: {
    interval: 0, margin: 3, fontSize: 9.5,
    color: (v, i) => (eRowIsRF[i] ? '#4b3fa0' : '#a0289a')
  }
})
const eHeatIndex = series.length
const eCells = []
eMatrix.forEach((row, r) => row.forEach((v, c) => eCells.push([c, r, v])))
series.push({ type: 'heatmap', xAxisIndex: gE, yAxisIndex: gE, data: eCells, silent: true })

// Method strip left of the heatmap
const gStrip = addGrid([543.3, eTop, 7.4, 193.7],
  { type: 'value', min: 0, max: 1, show: false },
  { type: 'category', data: eRowLabels, inverse: true, show: false })
series.push({
  type: 'bar', xAxisIndex: gStrip, yAxisIndex: gStrip, barWidth: '100%', silent: true,
  data: eRowIsRF.map(isRF => ({
    value: 1,
    itemStyle: { color: isRF ? '#4a3d99' : '#93278f', borderColor: '#aaa', borderWidth: 0.5 }
  }))
})

function addDendro (g, links, project) {
  series.push({
    type: 'custom', xAxisIndex: g, yAxisIndex: g, silent: true, data: links, clip: false,
    renderItem: (params, api) => {
      const a = api.value(0) + 0.5, b = api.value(1) + 0.5, h = api.value(2)
      const points = [[a, api.value(3)], [a, h], [b, h], [b, api.value(4)]].map(p => api.coord(project(p)))
      return { type: 'polyline', shape: { points }, style: { stroke: '#5c5c5c', lineWidth: 1.2, fill: null } }
    }
  })
}
const gTop = addGrid([eLeft, 256.7, eSize, 75],
  { type: 'value', min: 0, max: 17, show: false },
  { type: 'value', min: 0, max: 75, show: false })
addDendro(gTop, eTopLinks, p => p)
const gLeft = addGrid([471.7, eTop, 69.3, 193.7],
  { type: 'value', min: 0, max: 69.3, inverse: true, show: false },
  { type: 'value', min: 0, max: 17, inverse: true, show: false })
addDendro(gLeft, eLeftLinks, p => [p[1], p[0]])

txt('RF', 538.7, 290, { size: 11, align: 'right' })
txt('CCA-KNN', 538.7, 303, { size: 11, align: 'right' })
graphics.push({ type: 'rect', silent: true, shape: { x: 543.3, y: 285.7, width: 7.4, height: 8.6 }, style: { fill: '#4a3d99', stroke: '#aaa', lineWidth: 0.5 } })
graphics.push({ type: 'rect', silent: true, shape: { x: 543.3, y: 298.7, width: 7.4, height: 8.6 }, style: { fill: '#93278f', stroke: '#aaa', lineWidth: 0.5 } })

// Colour bars: visualMap draws the ramp, an empty grid the ticks
addGrid([55, 266, 72.7, 1], {
  type: 'value', min: -1.5, max: 1.5, splitLine: { show: false }, axisLine: { show: false },
  axisTick: { length: 2.5, customValues: [-1, -0.5, 0, 0.5, 1, 1.5], lineStyle: { color: '#777' } },
  axisLabel: { customValues: [-1, 0, 1], margin: 4, fontSize: 10, color: '#333', formatter: v => (v < 0 ? '\u2212' + Math.abs(v) : v) }
}, { type: 'value', show: false })
txt('z\u2212score', 132.7, 262, { size: 10.5, fill: '#333' })
addGrid([694, 269.3, 73, 1], {
  type: 'value', min: 0, max: 1, splitLine: { show: false }, axisLine: { show: false },
  axisTick: { length: 2.5, customValues: [0, 0.25, 0.5, 0.75, 1], lineStyle: { color: '#777' } },
  axisLabel: { customValues: [0, 0.5, 1], margin: 4, fontSize: 10, color: '#333' }
}, { type: 'value', show: false })

// Panel F
const gF = addGrid([546, 572.7, 180, 108], {
  type: 'category', data: fCategories, axisLine: { show: false }, axisTick: { show: false },
  axisLabel: { interval: 0, rotate: 45, margin: 6, fontSize: 9.5, color: '#333' }
}, {
  type: 'value', min: 0, max: 100, interval: 25, offset: 6, splitLine: { show: false },
  axisLine: { show: true, lineStyle: { color: '#888', width: 1.3 } },
  axisTick: { show: true, length: 5, lineStyle: { color: '#888', width: 1.2 } },
  axisLabel: { fontSize: 12, color: '#222', margin: 4 }
})
const barBorder = { borderColor: '#8f8f8f', borderWidth: 0.8 }
series.push({ name: 'E12.5', type: 'bar', stack: 'f', xAxisIndex: gF, yAxisIndex: gF, barWidth: 16.3, data: fE125, silent: true, itemStyle: Object.assign({ color: '#c08dc1' }, barBorder) })
series.push({ name: 'E14.5', type: 'bar', stack: 'f', xAxisIndex: gF, yAxisIndex: gF, barWidth: 16.3, data: fE145, silent: true, itemStyle: Object.assign({ color: '#93278f' }, barBorder) })
txt('Frequency (%)', 498, 626.7, { size: 13, weight: 'bold', align: 'center', rotation: Math.PI / 2, fill: '#111' })

// Panel letters
;[['A', 14, 18], ['B', 259, 18], ['C', 539, 18], ['D', 15, 274], ['E', 466, 273], ['F', 466, 572]].forEach(l => {
  txt(l[0], l[1], l[2], { size: 21, weight: 'bold', fill: '#000' })
})

const chart = echarts.init(document.getElementById('main'), null, { renderer: 'canvas' })
chart.setOption({
  animation: false,
  backgroundColor: '#fff',
  textStyle: { fontFamily: FONT },
  tooltip: { show: false },
  grid: grids,
  xAxis: xAxes,
  yAxis: yAxes,
  legend: {
    data: ['E12.5', 'E14.5'], orient: 'vertical', left: 731.7, top: 572, padding: 0,
    icon: 'rect', itemWidth: 10, itemHeight: 11, itemGap: 4,
    textStyle: { fontSize: 12, color: TEXT }, selectedMode: false
  },
  visualMap: [
    {
      type: 'continuous', seriesIndex: heatIndex, min: -1.5, max: 1.5, orient: 'horizontal',
      left: 55, top: 256.7, itemWidth: 9.3, itemHeight: 72.7, padding: 0, calculable: false,
      hoverLink: false, inRange: { color: heatColors }
    },
    {
      type: 'continuous', seriesIndex: eHeatIndex, min: 0, max: 1, orient: 'horizontal',
      left: 694, top: 260.7, itemWidth: 8.6, itemHeight: 73, padding: 0, calculable: false,
      hoverLink: false, inRange: { color: corrColors }
    }
  ],
  graphic: { elements: graphics },
  series
})
</script>
</body>
</html>
